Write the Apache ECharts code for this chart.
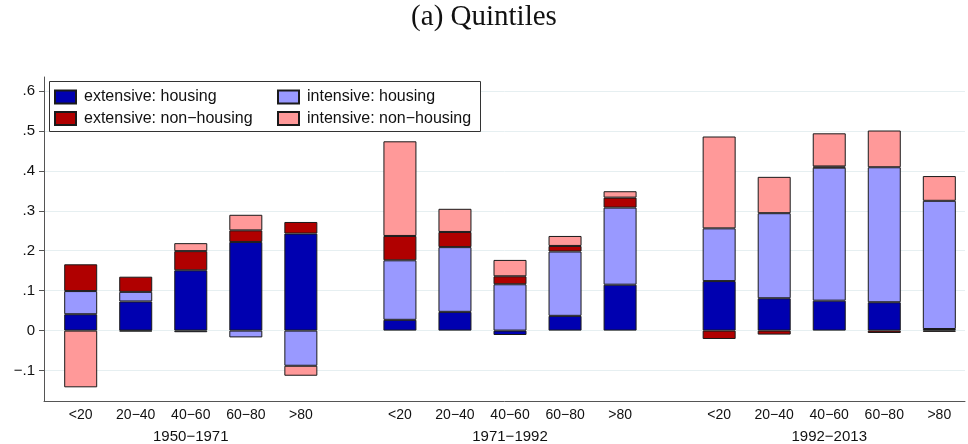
<!DOCTYPE html>
<html>
<head>
<meta charset="utf-8">
<script src="https://cdn.jsdelivr.net/npm/echarts@6/dist/echarts.min.js"></script>
<style>
  html, body { margin: 0; padding: 0; background: #fff; }
  #chart { width: 968px; height: 444px; }
</style>
</head>
<body>
<div id="chart"></div>
<script>
// Income quintiles within each period
const quintiles = ['<20', '20\u221240', '40\u221260', '60\u221280', '>80'];
const periods = ['1950\u22121971', '1971\u22121992', '1992\u22122013'];

// Contributions, period-major (5 quintiles per period)
const extHousing    = [0.041, 0.073, 0.151, 0.222, 0.243,  0.027, 0.047, -0.011, 0.037, 0.115,  0.124, 0.081, 0.075, 0.071, 0.004];
const intHousing    = [0.058, 0.024, -0.004, -0.017, -0.088, 0.149, 0.162, 0.116, 0.161, 0.193,  0.132, 0.213, 0.333, 0.338, 0.321];
const extNonHousing = [0.067, 0.038, 0.048, 0.029, 0.029,  0.061, 0.038, 0.020, 0.014, 0.025,  -0.021, -0.010, 0.003, -0.006, -0.003];
const intNonHousing = [-0.142, -0.002, 0.020, 0.039, -0.025, 0.237, 0.058, 0.041, 0.025, 0.016, 0.230, 0.091, 0.083, 0.092, 0.062];

const seriesNames = ['extensive: housing', 'intensive: housing', 'extensive: non\u2212housing', 'intensive: non\u2212housing'];
const yTicks = [-0.1, 0, 0.1, 0.2, 0.3, 0.4, 0.5, 0.6];

// Fine-grained category track: each quintile bar takes SLOT steps,
// periods are separated by a wider stride.
const SLOT = 15, STRIDE = 87, LEAD = 10, TRACK = 252;
const track = [];
const trackLabel = {};
for (let i = 0; i < TRACK; i++) track.push('s' + i);
const barIndex = [];
periods.forEach((p, g) => {
  quintiles.forEach((q, k) => {
    const idx = LEAD + g * STRIDE + k * SLOT;
    barIndex.push(idx);
    trackLabel['s' + idx] = k === 2 ? '{a|' + q + '}\n{b|' + p + '}' : '{a|' + q + '}';
  });
});

const colors = ['#0000b0', '#9999ff', '#b00000', '#ff9999'];
const values = [extHousing, intHousing, extNonHousing, intNonHousing];

function spread(arr) {
  const out = new Array(TRACK).fill('-');
  arr.forEach((v, j) => { out[barIndex[j]] = v; });
  return out;
}

const series = values.map((arr, i) => ({
  name: seriesNames[i],
  type: 'bar',
  stack: 'total',
  barWidth: 33,
  itemStyle: { color: colors[i], borderColor: '#1a1a1a', borderWidth: 1 },
  emphasis: { disabled: true },
  data: spread(arr)
}));

const legendText = { fontFamily: 'Liberation Sans', fontSize: 16, color: '#111', padding: [0, 0, 0, 3] };

const chart = echarts.init(document.getElementById('chart'), null, { renderer: 'canvas' });
chart.setOption({
  animation: false,
  backgroundColor: '#fff',
  title: {
    text: '(a) Quintiles',
    left: 'center',
    top: 3,
    padding: 0,
    textStyle: { fontFamily: 'Liberation Serif', fontSize: 29, fontWeight: 'normal', color: '#111' }
  },
  graphic: [{
    type: 'rect',
    z: 3,
    shape: { x: 49.5, y: 81.5, width: 431, height: 50 },
    style: { fill: '#fff', stroke: '#333', lineWidth: 1 }
  }],
  legend: [
    {
      left: 54, top: 89, orient: 'vertical', icon: 'rect', itemWidth: 21, itemHeight: 13, itemGap: 5.5, padding: 0,
      data: [seriesNames[0], seriesNames[2]], textStyle: legendText, selectedMode: false
    },
    {
      left: 277, top: 89, orient: 'vertical', icon: 'rect', itemWidth: 21, itemHeight: 13, itemGap: 5.5, padding: 0,
      data: [seriesNames[1], seriesNames[3]], textStyle: legendText, selectedMode: false
    }
  ],
  grid: { left: 44, right: 2, top: 77, bottom: 42, containLabel: false },
  xAxis: {
    type: 'category',
    data: track,
    boundaryGap: false,
    splitLine: { show: false },
    axisLine: { show: true, onZero: false, lineStyle: { color: '#555', width: 1 } },
    axisTick: { show: false },
    axisLabel: {
      interval: 0,
      margin: 4,
      formatter: v => trackLabel[v] || '',
      rich: {
        a: { fontFamily: 'Liberation Sans', fontSize: 14, color: '#111', lineHeight: 20 },
        b: { fontFamily: 'Liberation Sans', fontSize: 15, color: '#111', lineHeight: 22 }
      }
    }
  },
  yAxis: {
    type: 'value',
    min: -0.1775,
    max: 0.635,
    axisLine: { show: true, onZero: false, lineStyle: { color: '#555', width: 1 } },
    axisTick: { show: true, length: 5, customValues: yTicks, lineStyle: { color: '#555' } },
    splitLine: { show: true, lineStyle: { color: '#e6eff1', width: 1 } },
    axisLabel: {
      customValues: yTicks,
      margin: 9,
      fontFamily: 'Liberation Sans',
      fontSize: 15,
      color: '#111',
      formatter: v => {
        if (Math.abs(v) < 1e-9) return '0';
        const s = Math.abs(v).toFixed(1).replace(/^0/, '');
        return (v < 0 ? '\u2212' : '') + s;
      }
    }
  },
  series: series
});
</script>
</body>
</html>
